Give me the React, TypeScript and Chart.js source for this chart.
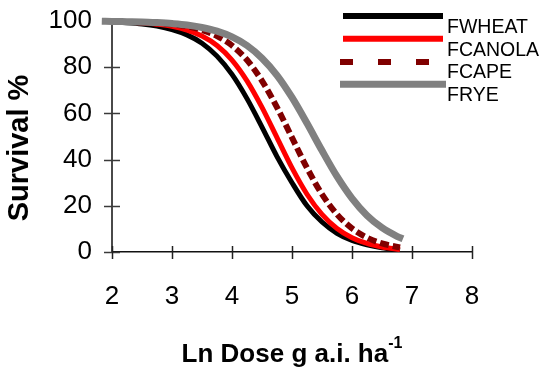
import React, { useEffect, useRef } from 'react';
import { Chart, registerables } from 'chart.js';

Chart.register(...registerables);

const FONT = "'Liberation Sans', Arial, Helvetica, sans-serif";

// Ln dose (g a.i. ha^-1) sampled along the curves
const doseLevels = [2.0, 2.25, 2.5, 2.75, 3.0, 3.25, 3.5, 3.75, 4.0, 4.25, 4.5, 4.75, 5.0, 5.25, 5.5, 5.75, 6.0, 6.25, 6.5, 6.8];
const fwheatSurvival = [99.5, 99.2, 98.7, 97.8, 96.3, 94.0, 90.4, 84.8, 76.9, 66.4, 54.1, 41.3, 30.0, 20.0, 13.0, 8.1, 5.0, 3.1, 1.8, 0.8];
const fcanolaSurvival = [99.7, 99.5, 99.2, 98.6, 97.7, 96.1, 93.5, 89.4, 83.1, 74.1, 62.6, 49.5, 36.4, 25.0, 16.3, 10.2, 6.2, 3.7, 2.2, 1.1];
const fcapeSurvival = [99.8, 99.7, 99.5, 99.2, 98.6, 97.7, 96.1, 93.5, 89.4, 83.1, 74.1, 62.6, 49.5, 36.4, 25.0, 16.3, 10.2, 6.2, 3.7, 2.0];
const ryeDoseLevels = [1.83, 2.0, 2.25, 2.5, 2.75, 3.0, 3.25, 3.5, 3.75, 4.0, 4.25, 4.5, 4.75, 5.0, 5.25, 5.5, 5.75, 6.0, 6.25, 6.5, 6.75, 6.85];
const fryeSurvival = [99.9, 99.8, 99.7, 99.6, 99.3, 98.9, 98.3, 97.2, 95.6, 93.1, 89.4, 83.9, 76.5, 66.9, 55.7, 43.9, 32.7, 23.2, 15.8, 10.5, 6.8, 5.7];

const xTicks = [2, 3, 4, 5, 6, 7, 8];
const yTicks = [0, 20, 40, 60, 80, 100];

const seriesNames = ['FWHEAT', 'FCANOLA', 'FCAPE', 'FRYE'];

const toPoints = (xs: number[], ys: number[]) => xs.map((x, i) => ({ x, y: ys[i] }));

const crossTicksPlugin = {
  id: 'crossTicks',
  beforeDatasetsDraw(chart: any) {
    const { ctx, scales } = chart;
    const xs = scales.x;
    const ys = scales.y;
    ctx.save();
    ctx.strokeStyle = '#3a3a3a';
    ctx.lineWidth = 1.5;
    const axisX = xs.getPixelForValue(2);
    yTicks.forEach((v) => {
      const py = Math.round(ys.getPixelForValue(v)) + 0.5;
      ctx.beginPath();
      ctx.moveTo(axisX - 8, py);
      ctx.lineTo(axisX + 8, py);
      ctx.stroke();
    });
    const axisY = ys.getPixelForValue(0);
    ctx.strokeStyle = '#222';
    xTicks.forEach((v) => {
      const px = Math.round(xs.getPixelForValue(v)) + 0.5;
      ctx.beginPath();
      ctx.moveTo(px, axisY - 6);
      ctx.lineTo(px, axisY + 7);
      ctx.stroke();
    });
    ctx.restore();
  },
};

const annotationsPlugin = {
  id: 'titlesAndLegend',
  afterDraw(chart: any) {
    const { ctx, chartArea } = chart;
    ctx.save();
    ctx.fillStyle = '#000';

    // y-axis title
    ctx.save();
    ctx.translate(28, 148);
    ctx.rotate(-Math.PI / 2);
    ctx.font = `bold 29px ${FONT}`;
    ctx.textAlign = 'center';
    ctx.textBaseline = 'alphabetic';
    ctx.fillText('Survival %', 0, 0);
    ctx.restore();

    // x-axis title with superscript
    const main = 'Ln Dose g a.i. ha';
    const sup = '-1';
    ctx.font = `bold 26px ${FONT}`;
    const wMain = ctx.measureText(main).width;
    ctx.font = `bold 16px ${FONT}`;
    const wSup = ctx.measureText(sup).width;
    const cx = (chartArea.left + chartArea.right) / 2;
    const start = cx - (wMain + wSup) / 2;
    ctx.textAlign = 'left';
    ctx.textBaseline = 'alphabetic';
    ctx.font = `bold 26px ${FONT}`;
    ctx.fillText(main, start, 362);
    ctx.font = `bold 16px ${FONT}`;
    ctx.fillText(sup, start + wMain, 348);

    // legend
    const items = [
      { name: seriesNames[0], color: '#000000', width: 6, dash: [] as number[], x0: 343, x1: 443, y: 16, ty: 33 },
      { name: seriesNames[1], color: '#ff0000', width: 6, dash: [] as number[], x0: 343, x1: 443, y: 38.7, ty: 55.5 },
      { name: seriesNames[2], color: '#800000', width: 6, dash: [13, 25], x0: 340, x1: 430, y: 62, ty: 78 },
      { name: seriesNames[3], color: '#808080', width: 7, dash: [] as number[], x0: 340, x1: 446, y: 84.3, ty: 100.5 },
    ];
    items.forEach((it) => {
      ctx.save();
      ctx.strokeStyle = it.color;
      ctx.lineWidth = it.width;
      ctx.lineCap = 'butt';
      ctx.setLineDash(it.dash);
      ctx.beginPath();
      ctx.moveTo(it.x0, it.y);
      ctx.lineTo(it.x1, it.y);
      ctx.stroke();
      ctx.restore();
      ctx.font = `19.5px ${FONT}`;
      ctx.fillStyle = '#000';
      ctx.textAlign = 'left';
      ctx.textBaseline = 'alphabetic';
      ctx.fillText(it.name, 447, it.ty);
    });
    ctx.restore();
  },
};

export default function App() {
  const canvasRef = useRef<HTMLCanvasElement | null>(null);

  useEffect(() => {
    const canvas = canvasRef.current;
    if (!canvas) return;
    const chart = new Chart(canvas, {
      type: 'line',
      data: {
        datasets: [
          {
            label: seriesNames[0],
            data: toPoints(doseLevels, fwheatSurvival),
            borderColor: '#000000',
            borderWidth: 5,
            pointRadius: 0,
            cubicInterpolationMode: 'monotone',
            order: 4,
          },
          {
            label: seriesNames[1],
            data: toPoints(doseLevels, fcanolaSurvival),
            borderColor: '#ff0000',
            borderWidth: 5,
            pointRadius: 0,
            cubicInterpolationMode: 'monotone',
            order: 3,
          },
          {
            label: seriesNames[2],
            data: toPoints(doseLevels, fcapeSurvival),
            borderColor: '#800000',
            borderWidth: 6,
            borderDash: [9, 4],
            pointRadius: 0,
            cubicInterpolationMode: 'monotone',
            order: 2,
          },
          {
            label: seriesNames[3],
            data: toPoints(ryeDoseLevels, fryeSurvival),
            borderColor: '#808080',
            borderWidth: 7,
            pointRadius: 0,
            cubicInterpolationMode: 'monotone',
            clip: false as any,
            order: 1,
          },
        ],
      },
      options: {
        responsive: false,
        animation: false,
        layout: { padding: { top: 21, right: 68, left: 0, bottom: 0 } },
        plugins: {
          legend: { display: false },
          tooltip: { enabled: false },
          title: { display: false },
        },
        scales: {
          x: {
            type: 'linear',
            min: 2,
            max: 8,
            afterFit: (scale: any) => {
              scale.height = 117;
              scale.paddingLeft = 0;
              scale.paddingRight = 0;
            },
            afterBuildTicks: (scale: any) => {
              scale.ticks = xTicks.map((v) => ({ value: v }));
            },
            ticks: {
              color: '#000',
              font: { family: FONT, size: 26 },
              padding: 29,
              maxRotation: 0,
              autoSkip: false,
            },
            grid: { display: false, drawTicks: false },
            border: { display: true, color: '#111', width: 1.5 },
          },
          y: {
            type: 'linear',
            min: 0,
            max: 100,
            afterFit: (scale: any) => {
              scale.width = 112;
              scale.paddingTop = 0;
              scale.paddingBottom = 0;
            },
            afterBuildTicks: (scale: any) => {
              scale.ticks = yTicks.map((v) => ({ value: v }));
            },
            ticks: {
              color: '#000',
              font: { family: FONT, size: 26 },
              padding: 20,
              autoSkip: false,
            },
            grid: { display: false, drawTicks: false },
            border: { display: true, color: '#4a4a4a', width: 2 },
          },
        },
      },
      plugins: [crossTicksPlugin, annotationsPlugin],
    } as any);
    return () => chart.destroy();
  }, []);

  return (
    <div style={{ position: 'fixed', left: 0, top: 0, width: 540, height: 369, background: '#fff' }}>
      <canvas ref={canvasRef} width={540} height={369} style={{ width: 540, height: 369, display: 'block' }} />
    </div>
  );
}
